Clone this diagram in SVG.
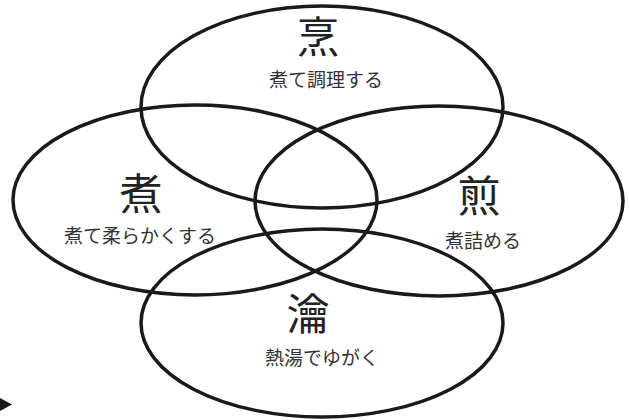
<svg xmlns="http://www.w3.org/2000/svg" width="629" height="420" viewBox="0 0 629 420">
<style>
.ring{fill:none;stroke:#1a1a1a;stroke-width:3.5}
.big{font-family:"Noto Sans CJK JP","Noto Sans CJK SC",sans-serif;font-size:43px;fill:#222;text-anchor:middle}
.sub{font-family:"Noto Sans CJK JP","Noto Sans CJK SC",sans-serif;font-size:19px;fill:#333;text-anchor:middle}
</style>
<rect width="629" height="420" fill="#fff"/>
<g id="node-top">
<ellipse class="ring" cx="322" cy="107" rx="181" ry="101"/>
<text class="big" x="318" y="53">烹</text>
<text class="sub" x="326" y="87">煮て調理する</text>
</g>
<g id="node-left">
<ellipse class="ring" cx="195" cy="200" rx="182" ry="95"/>
<text class="big" x="141" y="210">煮</text>
<text class="sub" x="140" y="243">煮て柔らかくする</text>
</g>
<g id="node-right">
<ellipse class="ring" cx="439" cy="201" rx="184" ry="95"/>
<text class="big" x="479" y="212">煎</text>
<text class="sub" x="483" y="248">煮詰める</text>
</g>
<g id="node-bottom">
<ellipse class="ring" cx="322" cy="323" rx="181" ry="94"/>
<text class="big" x="308" y="330">瀹</text>
<text class="sub" x="322" y="365">熱湯でゆがく</text>
</g>
<g id="connectors">
<path d="M0,398 L12,404.5 L0,411 Z" fill="#1a1a1a"/>
</g>
</svg>
